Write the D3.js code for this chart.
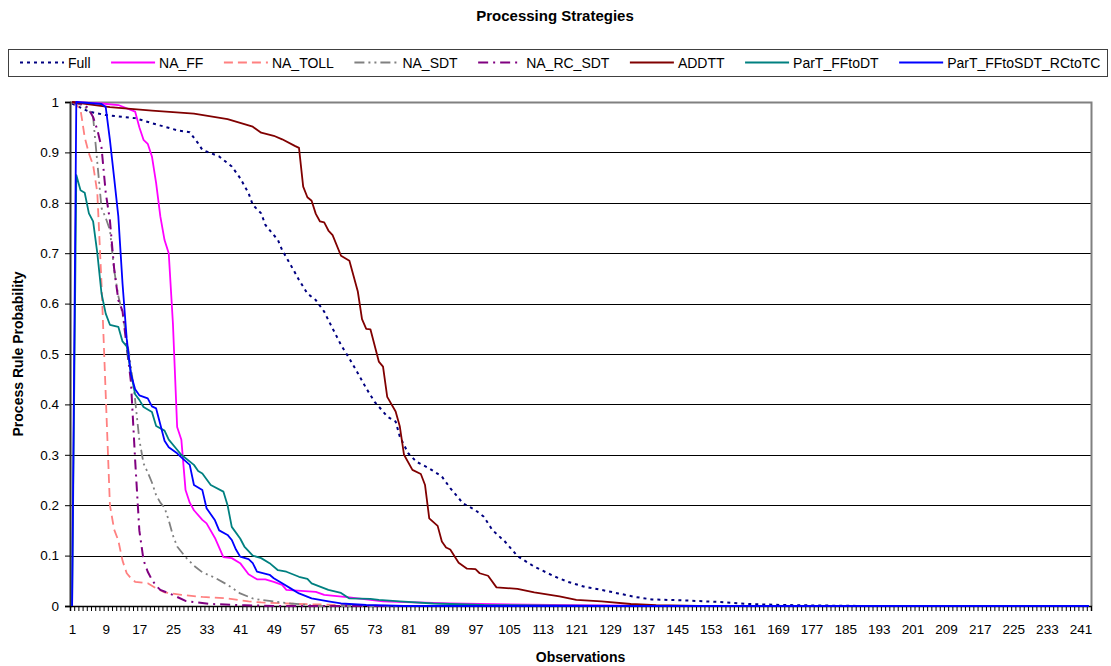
<!DOCTYPE html>
<html><head><meta charset="utf-8">
<script src="https://cdn.jsdelivr.net/npm/d3@7"></script>
<style>
body{margin:0;background:#fff}
svg{display:block}
text{font-family:"Liberation Sans",Arial,sans-serif;fill:#000}
</style>
</head><body>
<svg id="chart" width="1111" height="666"></svg>
<script>
// ---------- DATA ----------
const observations = d3.range(1, 244); // categories 1..243
const xTickLabels = [1,9,17,25,33,41,49,57,65,73,81,89,97,105,113,121,129,137,145,153,161,169,177,185,193,201,209,217,225,233,241];
const yTicks = [0,0.1,0.2,0.3,0.4,0.5,0.6,0.7,0.8,0.9,1];
const seriesNames = ["Full","NA_FF","NA_TOLL","NA_SDT","NA_RC_SDT","ADDTT","ParT_FFtoDT","ParT_FFtoSDT_RCtoTC"];

// [observation, probability]
const full = [[1,0.997],[5,0.981],[9,0.974],[16,0.968],[20,0.958],[26,0.944],[29,0.94],[31,0.918],[32,0.905],[36,0.892],[39,0.872],[41,0.849],[43,0.819],[44,0.796],[46,0.779],[47,0.756],[50,0.726],[51,0.706],[53,0.677],[55,0.647],[57,0.62],[59,0.607],[61,0.584],[62,0.567],[65,0.518],[67,0.491],[69,0.462],[71,0.432],[73,0.405],[75,0.386],[76,0.376],[78,0.366],[79,0.336],[81,0.303],[83,0.286],[86,0.273],[89,0.257],[91,0.234],[94,0.204],[97,0.19],[99,0.177],[101,0.151],[104,0.128],[107,0.099],[111,0.078],[116,0.058],[119,0.048],[123,0.038],[127,0.032],[131,0.025],[135,0.018],[139,0.013],[147,0.011],[155,0.008],[162,0.004],[170,0.002],[178,0.001],[190,0],[243,0]];
const naFF = [[1,1],[8,0.997],[12,0.994],[16,0.981],[17,0.95],[18,0.925],[19,0.917],[20,0.892],[21,0.839],[22,0.773],[23,0.726],[24,0.7],[25,0.56],[26,0.355],[27,0.33],[28,0.23],[29,0.205],[30,0.19],[32,0.171],[33,0.164],[35,0.135],[37,0.097],[39,0.095],[41,0.085],[43,0.063],[45,0.053],[47,0.053],[49,0.048],[51,0.042],[52,0.032],[59,0.028],[61,0.022],[67,0.017],[75,0.009],[91,0.005],[115,0.002],[140,0],[243,0]];
const naToll = [[1,1],[2,0.995],[3,0.985],[4,0.93],[5,0.898],[6,0.875],[7,0.82],[8,0.64],[9,0.42],[10,0.2],[11,0.152],[12,0.13],[13,0.09],[14,0.065],[15,0.055],[16,0.048],[19,0.045],[21,0.035],[23,0.027],[27,0.022],[32,0.018],[38,0.015],[43,0.009],[46,0.007],[55,0.004],[65,0.002],[80,0],[243,0]];
const naSDT = [[1,1],[3,0.995],[4,0.99],[5,0.984],[6,0.97],[7,0.88],[8,0.79],[9,0.77],[10,0.746],[11,0.667],[12,0.615],[13,0.58],[14,0.53],[15,0.475],[16,0.409],[17,0.33],[18,0.283],[19,0.265],[20,0.245],[21,0.22],[22,0.205],[23,0.195],[24,0.17],[25,0.14],[26,0.118],[28,0.097],[30,0.08],[32,0.067],[35,0.056],[38,0.042],[41,0.025],[44,0.015],[46,0.012],[53,0.005],[60,0],[243,0]];
const naRcSDT = [[1,1],[4,0.995],[5,0.985],[6,0.97],[7,0.945],[8,0.91],[9,0.82],[10,0.765],[11,0.67],[12,0.607],[13,0.585],[14,0.514],[15,0.445],[16,0.29],[17,0.15],[18,0.091],[19,0.068],[20,0.052],[21,0.04],[22,0.032],[25,0.022],[28,0.01],[34,0.004],[42,0.0015],[50,0],[243,0]];
const addtt = [[1,1],[10,0.99],[20,0.983],[30,0.977],[38,0.966],[44,0.951],[46,0.939],[49,0.933],[51,0.926],[54,0.913],[55,0.909],[56,0.832],[57,0.811],[58,0.804],[59,0.778],[60,0.763],[61,0.761],[62,0.745],[63,0.736],[65,0.695],[67,0.685],[69,0.624],[70,0.569],[71,0.55],[72,0.549],[74,0.485],[75,0.475],[76,0.415],[78,0.386],[79,0.356],[80,0.3],[82,0.27],[84,0.262],[85,0.24],[86,0.174],[88,0.159],[89,0.128],[90,0.116],[91,0.112],[93,0.086],[95,0.074],[97,0.073],[98,0.065],[100,0.06],[102,0.037],[107,0.034],[111,0.027],[117,0.019],[121,0.012],[127,0.009],[134,0.004],[140,0.0015],[150,0],[243,0]];
const parTFFtoDT = [[1,0],[2,0.855],[3,0.825],[4,0.82],[5,0.779],[6,0.763],[7,0.7],[8,0.62],[9,0.58],[10,0.558],[12,0.554],[13,0.525],[14,0.515],[15,0.462],[16,0.42],[17,0.409],[18,0.395],[20,0.385],[21,0.357],[23,0.348],[24,0.33],[26,0.31],[27,0.3],[30,0.28],[31,0.268],[32,0.263],[34,0.24],[37,0.227],[38,0.2],[39,0.157],[41,0.134],[42,0.118],[44,0.1],[46,0.095],[48,0.085],[50,0.071],[52,0.068],[55,0.058],[57,0.054],[58,0.045],[62,0.032],[65,0.026],[67,0.015],[72,0.014],[74,0.012],[79,0.009],[87,0.005],[99,0.002],[130,0],[243,0]];
const parTFFtoSDTRCtoTC = [[1,0],[2,1],[8,0.996],[9,0.99],[10,0.925],[11,0.85],[12,0.773],[13,0.64],[14,0.53],[15,0.46],[16,0.43],[17,0.418],[19,0.412],[20,0.396],[21,0.392],[22,0.36],[23,0.328],[24,0.315],[26,0.303],[27,0.295],[29,0.28],[30,0.24],[32,0.23],[33,0.194],[35,0.17],[36,0.15],[38,0.141],[39,0.131],[40,0.112],[41,0.098],[43,0.093],[44,0.085],[45,0.068],[48,0.062],[49,0.055],[51,0.045],[53,0.035],[55,0.025],[58,0.015],[62,0.009],[65,0.005],[71,0.002],[80,0],[243,0]];

const seriesValues = [full, naFF, naToll, naSDT, naRcSDT, addtt, parTFFtoDT, parTFFtoSDTRCtoTC];

// ---------- STYLE ----------
const styles = [
  {color:"#000080", dash:"3,4", width:2},
  {color:"#FF00FF", dash:null, width:1.8},
  {color:"#FF8080", dash:"9,5", width:1.8},
  {color:"#808080", dash:"10,4,2,4,2,4", width:1.8},
  {color:"#800080", dash:"10,5,2,5", width:2},
  {color:"#800000", dash:null, width:1.8},
  {color:"#008080", dash:null, width:1.8},
  {color:"#0000FF", dash:null, width:1.8}
];

const svg = d3.select("#chart");
const L = 70, R = 1091, T = 102, B = 606;

svg.append("rect").attr("width",1111).attr("height",666).attr("fill","#fff");

const x = d3.scalePoint().domain(observations).range([L, R]).padding(0.5);
const xb = d3.scaleLinear().domain([0, observations.length]).range([L, R]);
const y = d3.scaleLinear().domain([0, 1]).range([B, T]);

// title
svg.append("text").attr("x", 555).attr("y", 21).attr("text-anchor","middle")
  .style("font-size","15px").style("font-weight","bold").text("Processing Strategies");

// gridlines
const grid = svg.append("g").attr("transform",`translate(${L},0)`)
  .call(d3.axisLeft(y).tickValues(yTicks.filter(v => v > 0 && v < 1)).tickSize(-(R-L)).tickFormat(""));
grid.select(".domain").remove();
grid.selectAll("line").attr("stroke","#000").attr("stroke-width",1).attr("shape-rendering","crispEdges");

// plot border (top and right)
svg.append("path").attr("d",`M${L},${T+0.5}H${R+0.5}V${B}`).attr("fill","none")
  .attr("stroke","#808080").attr("stroke-width",2);

// y axis
const yAx = svg.append("g").attr("transform",`translate(${L},0)`)
  .call(d3.axisLeft(y).tickValues(yTicks).tickSize(5).tickPadding(6)
    .tickFormat(d => d === 0 ? "0" : d === 1 ? "1" : d3.format(".1f")(d)));
yAx.select(".domain").attr("stroke","#333").attr("stroke-width",2);
yAx.selectAll("line").attr("stroke","#000");
yAx.selectAll("text").style("font-size","13.5px").style("font-family",'"Liberation Sans",Arial,sans-serif');

// x axis tick marks (between categories)
const xTickAx = svg.append("g").attr("transform",`translate(0,${B})`)
  .call(d3.axisBottom(xb).tickValues(d3.range(0, observations.length + 1)).tickSize(5).tickFormat(""));
xTickAx.select(".domain").attr("stroke","#000").attr("stroke-width",1.5);
xTickAx.selectAll("line").attr("stroke","#000");

// x axis labels
const xLab = svg.append("g").attr("transform",`translate(0,${B})`)
  .call(d3.axisBottom(x).tickValues(xTickLabels).tickSize(0).tickPadding(18));
xLab.select(".domain").remove();
xLab.selectAll("text").style("font-size","13.5px").style("font-family",'"Liberation Sans",Arial,sans-serif');

// axis titles
svg.append("text").attr("x", (L+R)/2).attr("y", 662).attr("text-anchor","middle")
  .style("font-size","14px").style("font-weight","bold").text("Observations");
svg.append("text").attr("transform",`translate(23,${(T+B)/2}) rotate(-90)`).attr("text-anchor","middle")
  .style("font-size","14px").style("font-weight","bold").text("Process Rule Probability");

// series
const line = d3.line().x(d => x(d[0])).y(d => y(d[1]));
seriesValues.forEach((vals, i) => {
  const st = styles[i];
  svg.append("path").datum(vals).attr("d", line).attr("fill","none")
    .attr("stroke", st.color).attr("stroke-width", st.width)
    .attr("stroke-dasharray", st.dash).attr("stroke-linejoin","round");
});

// legend
const lg = svg.append("g");
lg.append("rect").attr("x",8.5).attr("y",49.5).attr("width",1099).attr("height",27)
  .attr("fill","#fff").attr("stroke","#404040").attr("stroke-width",1);
let cx = 20;
seriesNames.forEach((name, i) => {
  const st = styles[i];
  lg.append("line").attr("x1",cx).attr("x2",cx+44).attr("y1",62.5).attr("y2",62.5)
    .attr("stroke",st.color).attr("stroke-width",st.width).attr("stroke-dasharray",st.dash);
  const t = lg.append("text").attr("x",cx+48).attr("y",68).style("font-size","14px").text(name);
  cx = cx + 48 + t.node().getComputedTextLength() + 20.5;
});
</script>
</body></html>
